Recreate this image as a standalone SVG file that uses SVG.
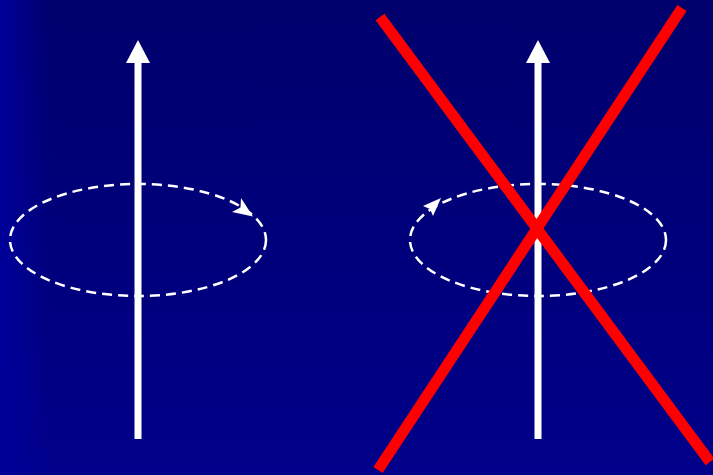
<svg xmlns="http://www.w3.org/2000/svg" width="713" height="475" viewBox="0 0 713 475">
<defs>
<linearGradient id="bg" x1="0" y1="0" x2="0" y2="1">
<stop offset="0" stop-color="#00006C"/>
<stop offset="1" stop-color="#00008A"/>
</linearGradient>
<linearGradient id="edge" x1="0" y1="0" x2="1" y2="0">
<stop offset="0" stop-color="#00009A" stop-opacity="1"/>
<stop offset="1" stop-color="#00009A" stop-opacity="0"/>
</linearGradient>
<style>
.shaft{fill:#fff}
.loop{fill:none;stroke:#fff;stroke-width:2.5;stroke-dasharray:10 6}
.head{fill:#fff}
.cross{stroke:#FF0000;stroke-width:11;stroke-linecap:butt}
</style>
</defs>
<rect width="713" height="475" fill="url(#bg)"/>
<rect width="50" height="475" fill="url(#edge)"/>
<g id="left-axis">
<rect class="shaft" x="134.5" y="62" width="7" height="377"/>
<polygon class="shaft" points="138,40 150,63 126,63"/>
</g>
<g id="left-loop">
<ellipse class="loop" cx="138" cy="240" rx="128" ry="56"/>
<polygon class="head" points="253,216.5 241,198 240.5,207.5 232,212"/>
</g>
<g id="right-axis">
<rect class="shaft" x="534.5" y="62" width="7" height="377"/>
<polygon class="shaft" points="538,40 550,63 526,63"/>
</g>
<g id="right-loop">
<ellipse class="loop" cx="538" cy="240" rx="128" ry="56"/>
<polygon class="head" points="441,198 423,206 430,209 433,216"/>
</g>
<g id="connectors">
<line class="cross" x1="380" y1="17" x2="710" y2="462"/>
<line class="cross" x1="682" y1="8" x2="378" y2="470"/>
</g>
</svg>
